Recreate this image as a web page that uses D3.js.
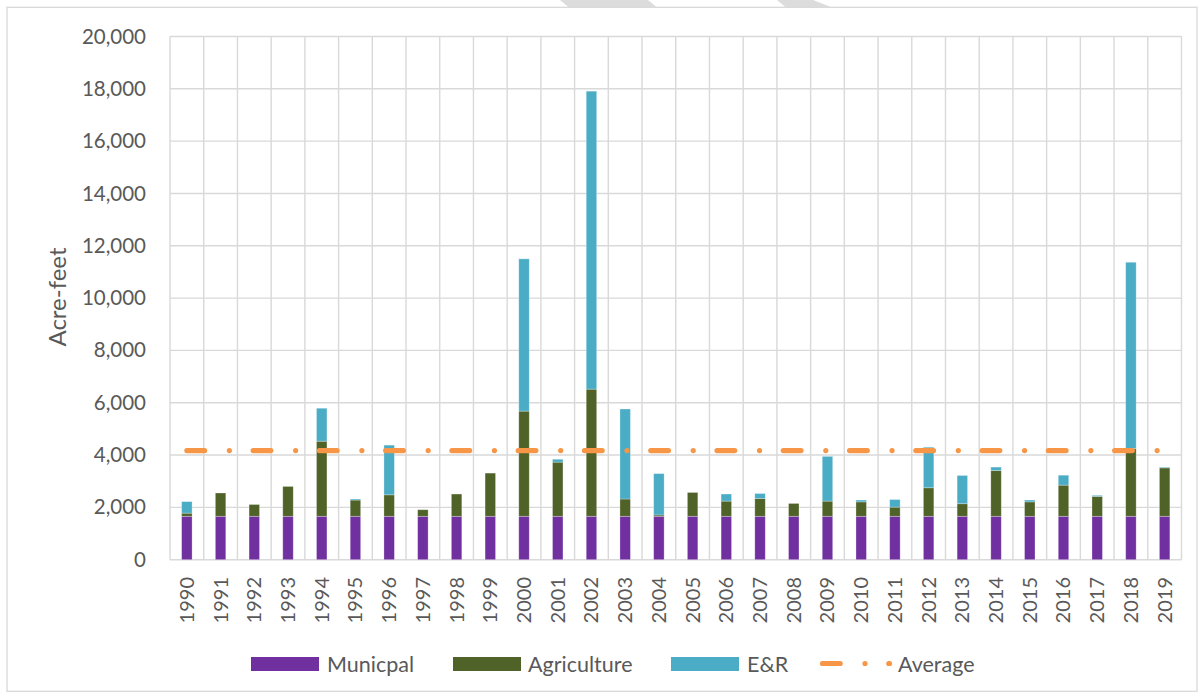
<!DOCTYPE html>
<html><head><meta charset="utf-8">
<script src="https://cdn.jsdelivr.net/npm/d3@7"></script>
<style>body{margin:0;background:#fff;} svg{display:block;} text{font-family:Lato,"Open Sans",sans-serif;fill:#595959;}</style>
</head><body>
<svg id="c" width="1204" height="698"></svg>
<script>
const years = ["1990","1991","1992","1993","1994","1995","1996","1997","1998","1999","2000","2001","2002","2003","2004","2005","2006","2007","2008","2009","2010","2011","2012","2013","2014","2015","2016","2017","2018","2019"];
const municipal = [1660,1660,1660,1660,1660,1660,1660,1660,1660,1660,1660,1660,1660,1660,1660,1660,1660,1660,1660,1660,1660,1660,1660,1660,1660,1660,1660,1660,1660,1660];
const agriculture = [120,890,450,1140,2870,620,820,250,850,1650,4020,2070,4860,660,50,910,580,680,490,580,550,350,1090,480,1750,550,1190,760,2590,1850];
const er = [440,0,0,0,1260,40,1900,0,0,0,5820,110,11390,3440,1580,0,270,190,0,1710,70,290,1550,1080,130,70,380,40,7120,30];
const average = [4170,4170,4170,4170,4170,4170,4170,4170,4170,4170,4170,4170,4170,4170,4170,4170,4170,4170,4170,4170,4170,4170,4170,4170,4170,4170,4170,4170,4170,4170];
const yTicks = [0,2000,4000,6000,8000,10000,12000,14000,16000,18000,20000];
const seriesNames = ["Municpal","Agriculture","E&R"];
const seriesColors = ["#7030A0","#4F6228","#4BACC6"];
const avgName = "Average";
const avgColor = "#F79646";

const svg = d3.select("#c");
const L = 170, R = 1181.5, T = 36.5, B = 559.7;

// watermark fragments and border
svg.append("polygon").attr("points","560,0 648,0 657,7.5 569,7.5").attr("fill","#dcdcdc");
svg.append("polygon").attr("points","777,0 813,0 832,7.5 786,7.5").attr("fill","#dcdcdc");
svg.append("rect").attr("x",7).attr("y",7.3).attr("width",1190).attr("height",684).attr("fill","none").attr("stroke","#d9d9d9").attr("stroke-width",1.3);

const x = d3.scaleBand().domain(years).range([L,R]).paddingInner(0.69).paddingOuter(0.345);
const xb = d3.scaleLinear().domain([0,years.length]).range([L,R]);
const y = d3.scaleLinear().domain([0,20000]).range([B,T]);

// gridlines
const g = svg.append("g");
g.selectAll("line.h").data(yTicks).join("line")
  .attr("x1",L).attr("x2",R).attr("y1",d=>y(d)).attr("y2",d=>y(d))
  .attr("stroke","#d9d9d9").attr("stroke-width",1.4);
g.selectAll("line.v").data(d3.range(years.length+1)).join("line")
  .attr("x1",d=>xb(d)).attr("x2",d=>xb(d)).attr("y1",T).attr("y2",B)
  .attr("stroke","#d9d9d9").attr("stroke-width",1.4);

// y axis labels
const yAxis = d3.axisLeft(y).tickValues(yTicks).tickSize(0).tickPadding(0).tickFormat(d3.format(","));
const ya = svg.append("g").attr("transform",`translate(${146},0)`).call(yAxis);
ya.select(".domain").remove();
ya.selectAll("text").attr("font-size",20.5).attr("fill","#595959").attr("font-family","Lato");

// x axis labels
const xAxis = d3.axisBottom(x).tickSize(0).tickPadding(0);
const xa = svg.append("g").attr("transform",`translate(0,${577})`).call(xAxis);
xa.select(".domain").remove();
xa.selectAll("text").attr("font-size",20).attr("fill","#595959").attr("font-family","Lato")
  .attr("text-anchor","end").attr("transform","rotate(-90)").attr("x",0).attr("y",0).attr("dy","0.35em");

// stacked bars
const rows = years.map((yr,i)=>({year:yr, m:municipal[i], a:agriculture[i], e:er[i]}));
const stack = d3.stack().keys(["m","a","e"])(rows);
svg.append("g").selectAll("g").data(stack).join("g")
  .attr("fill",(d,i)=>seriesColors[i])
  .selectAll("rect").data(d=>d.filter(s=>s[1]-s[0]>0)).join("rect")
  .attr("x",d=>x(d.data.year)).attr("width",x.bandwidth())
  .attr("y",d=>y(d[1])).attr("height",d=>y(d[0])-y(d[1]))
  .attr("stroke","rgba(255,255,255,0.35)").attr("stroke-width",0.8);

// average line
const dash = "17.7 24.8 0.01 23.76";
const line = d3.line().x((d,i)=>x(years[i])+x.bandwidth()/2).y(d=>y(d));
svg.append("path").attr("d",line(average)).attr("fill","none")
  .attr("stroke",avgColor).attr("stroke-width",5.2).attr("stroke-linecap","round")
  .attr("stroke-dasharray",dash);

// axis title
svg.append("text").attr("transform","translate(58,297) rotate(-90)")
  .attr("text-anchor","middle").attr("dy","0.35em").attr("font-size",24).text("Acre-feet");

// legend
const lg = svg.append("g");
const swX = [251,453,671];
const txX = [327,528,747];
seriesNames.forEach((n,i)=>{
  lg.append("rect").attr("x",swX[i]).attr("y",657).attr("width",68).attr("height",14).attr("fill",seriesColors[i]);
  lg.append("text").attr("x",txX[i]).attr("y",664).attr("dy","0.35em").attr("font-size",21.5).text(n);
});
lg.append("path").attr("d","M822.5,663.5H889.5").attr("stroke",avgColor).attr("stroke-width",5.2)
  .attr("stroke-linecap","round").attr("stroke-dasharray",dash).attr("fill","none");
lg.append("text").attr("x",898).attr("y",664).attr("dy","0.35em").attr("font-size",21.5).text(avgName);
</script>
</body></html>
